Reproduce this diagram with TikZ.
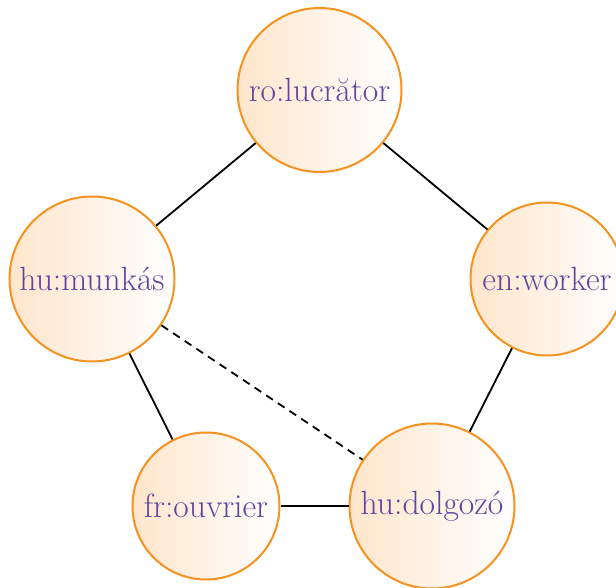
\documentclass[tikz,border=0pt]{standalone}
\usepackage{fontspec}
\definecolor{nodeborder}{RGB}{245,146,32}
\definecolor{nodetext}{RGB}{95,70,160}
\tikzset{
  word/.style={circle, draw=nodeborder, line width=2pt, left color=orange!20, right color=white, shading angle=90,
    text=nodetext, inner sep=0pt, font=\fontsize{33.6}{40}\selectfont},
  link/.style={line width=1.8pt, black},
  weaklink/.style={link, dash pattern=on 8pt off 6pt}
}
\begin{document}
\begin{tikzpicture}[x=1pt,y=-1pt]
\useasboundingbox (0,0) rectangle (616,588);
\node[word, minimum size=164pt] (ro) at (319.5,90) {ro:lucrător};
\node[word, minimum size=165pt] (hum) at (92,279) {hu:munkás};
\node[word, minimum size=153pt] (en) at (547,279) {en:worker};
\node[word, minimum size=147pt] (fr) at (206,506) {fr:ouvrier};
\node[word, minimum size=165pt] (hud) at (432,506) {hu:dolgozó};
\draw[link] (ro) -- (hum);
\draw[link] (ro) -- (en);
\draw[link] (en) -- (hud);
\draw[link] (hum) -- (fr);
\draw[link] (fr) -- (hud);
\draw[weaklink] (hum) -- (hud);
\end{tikzpicture}
\end{document}
